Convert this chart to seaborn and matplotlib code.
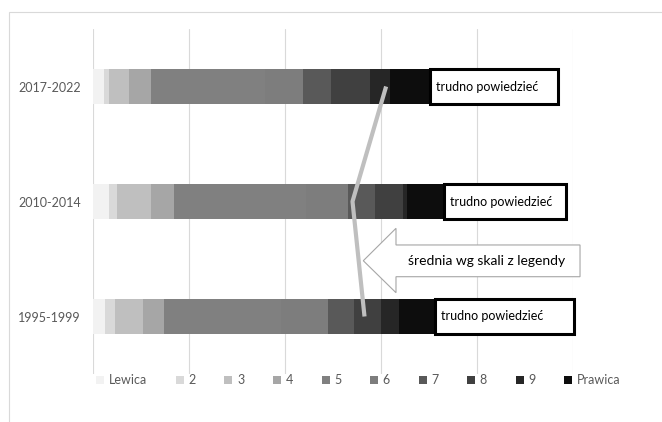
import numpy as np
import pandas as pd
import seaborn as sns
import matplotlib.pyplot as plt
from matplotlib.lines import Line2D
from matplotlib.patches import Polygon, Rectangle

# data (percent of respondents)
periods = ["2017-2022", "2010-2014", "1995-1999"]
scale_labels = ["Lewica", "2", "3", "4", "5", "6", "7", "8", "9", "Prawica"]
scale_colors = ["#F2F2F2", "#D9D9D9", "#BFBFBF", "#A6A6A6", "#808080",
                "#7D7D7D", "#595959", "#404040", "#262626", "#0D0D0D"]
v_2017 = [2.2, 1.0, 4.2, 4.7, 23.7, 7.8, 6.0, 8.0, 4.3, 8.2]
v_2010 = [3.3, 1.6, 7.2, 4.8, 27.5, 8.7, 5.5, 5.9, 0.9, 7.6]
v_1995 = [2.4, 2.1, 5.9, 4.4, 24.3, 9.7, 5.6, 5.6, 3.7, 7.4]
trudno = [26.7, 25.4, 29.0]
srednia = [6.1, 5.4, 5.65]   # average on the 0-10 legend scale

sns.set_theme(style="white")
plt.rcParams['font.family'] = ['Lato', 'DejaVu Sans']

df = pd.DataFrame([v_2017, v_2010, v_1995], index=periods, columns=scale_labels)
cum = df.cumsum(axis=1)
pos = np.arange(len(periods))

fig = plt.figure(figsize=(6.62, 4.22), dpi=100)
ax = fig.add_axes([93.3 / 662, 48 / 422, 480 / 662, 345 / 422])

# stacked bars: draw cumulative sums from the right end back to the left
for lab, col in reversed(list(zip(scale_labels, scale_colors))):
    sns.barplot(x=cum[lab].values, y=periods, orient='h', color=col,
                saturation=1, width=0.31, errorbar=None, linewidth=0, ax=ax)

# "trudno powiedziec" boxes
ax.barh(pos, trudno, left=cum['Prawica'].values, height=0.31, color='white',
        edgecolor='black', linewidth=2.2, clip_on=False, zorder=3)
for i in pos:
    ax.text(cum['Prawica'].values[i] + 1.3, i, "trudno powiedzieć",
            ha='left', va='center', fontsize=9, color='black', zorder=4)

ax.set_xlim(0, 100)
ax.set_ylim(len(periods) - 0.5, -0.5)
ax.set_xticks(range(0, 101, 20))
ax.grid(axis='x', color='#D9D9D9', linewidth=0.8)
ax.set_axisbelow(True)
ax.tick_params(axis='x', labelbottom=False, length=0)
ax.tick_params(axis='y', length=0, pad=9, labelsize=9, labelcolor='#595959')
ax.set_xlabel('')
ax.set_ylabel('')
sns.despine(ax=ax, left=True, bottom=True)

# callout arrow
arrow = Polygon([(56.25, 1.515), (63.06, 1.233), (63.06, 1.378), (101.4, 1.378),
                 (101.4, 1.654), (63.06, 1.654), (63.06, 1.793)],
                closed=True, facecolor='white', edgecolor='#A6A6A6',
                linewidth=0.8, clip_on=False, zorder=5)
ax.add_patch(arrow)
ax.text(82, 1.515, "średnia wg skali z legendy", ha='center', va='center',
        fontsize=10, color='black', zorder=6)

# average line on a secondary 0-10 scale
ax2 = ax.twiny()
ax2.plot(srednia, pos, color='#BFBFBF', linewidth=3, solid_capstyle='butt')
ax2.set_xlim(0, 10)
ax2.set_ylim(len(periods) - 0.5, -0.5)
ax2.axis('off')

handles = [Line2D([], [], marker='s', linestyle='none', color=c,
                  markersize=5.5, markeredgewidth=0)
           for c in scale_colors]
fig.legend(handles, scale_labels, loc='center',
           bbox_to_anchor=(358.5 / 662, 1 - 380 / 422), ncol=10, frameon=False,
           handlelength=0.6, handletextpad=0.4, columnspacing=2.3,
           fontsize=9, labelcolor='#595959', borderaxespad=0, borderpad=0)

fig.add_artist(Rectangle((9 / 662, -0.05), 1.1, 1 - 12 / 422 + 0.05,
                         transform=fig.transFigure, fill=False,
                         edgecolor='#D9D9D9', linewidth=0.8))

fig.savefig('out.png', dpi=100)
